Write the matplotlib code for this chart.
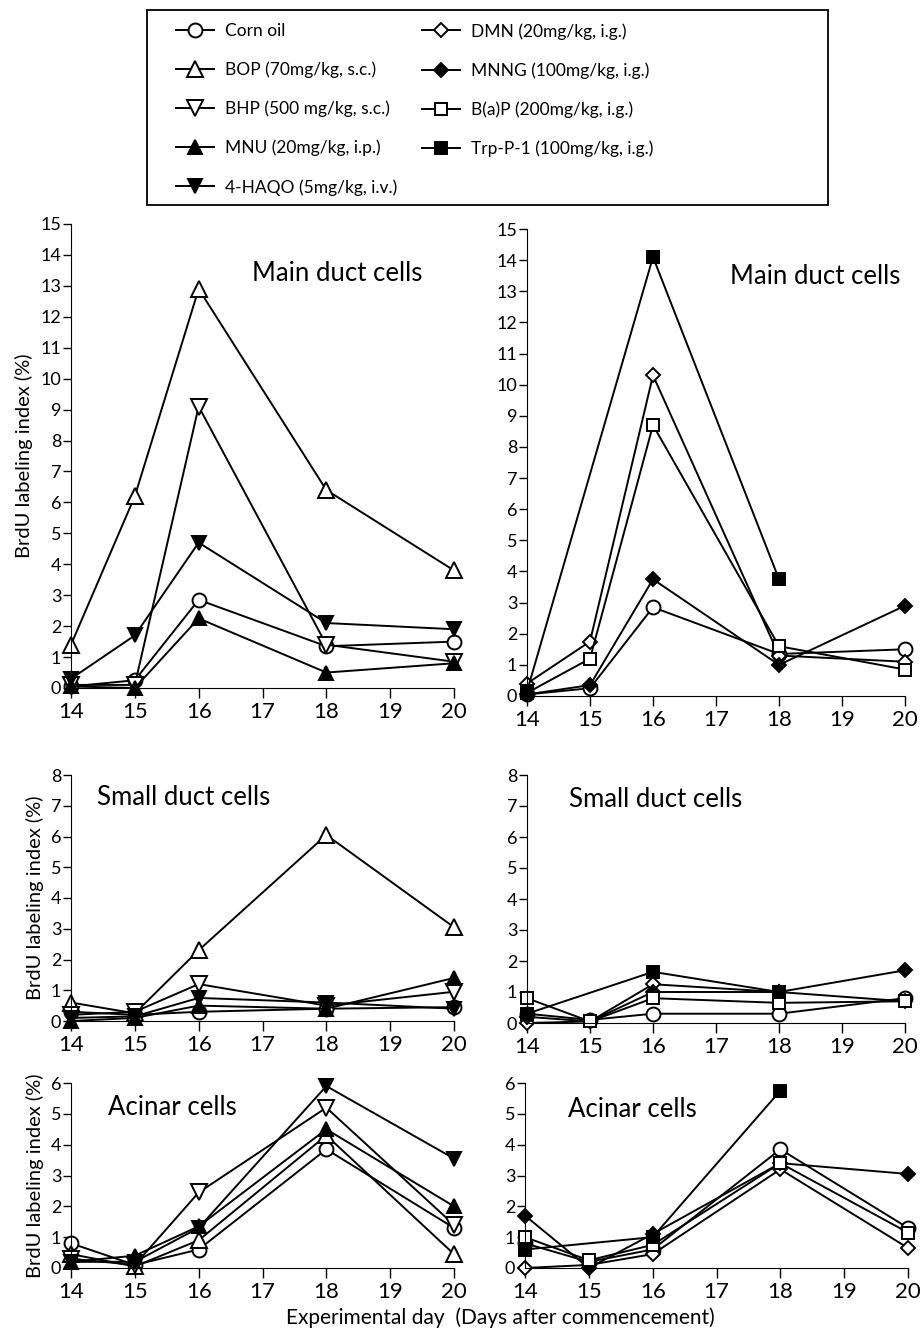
import matplotlib
matplotlib.use("Agg")
import matplotlib.pyplot as plt
from matplotlib.lines import Line2D
from matplotlib.patches import Rectangle
import numpy as np

plt.rcParams['font.family'] = ['Lato', 'DejaVu Sans']

days = [14, 15, 16, 18, 20]
nan = np.nan

# left column groups
corn_main = [0.05, 0.25, 2.85, 1.35, 1.5]
bop_main = [1.4, 6.2, 12.9, 6.4, 3.8]
bhp_main = [0.1, 0.1, 9.1, 1.4, 0.85]
mnu_main = [0.05, 0.0, 2.25, 0.5, 0.8]
haqo_main = [0.3, 1.7, 4.7, 2.1, 1.9]

corn_small = [0.3, 0.2, 0.3, 0.4, 0.45]
bop_small = [0.6, 0.25, 2.3, 6.05, 3.05]
bhp_small = [0.2, 0.3, 1.2, 0.5, 0.95]
mnu_small = [0.0, 0.1, 0.5, 0.4, 1.4]
haqo_small = [0.1, 0.15, 0.75, 0.6, 0.4]

corn_acinar = [0.8, 0.1, 0.6, 3.85, 1.3]
bop_acinar = [0.45, 0.05, 0.9, 4.3, 0.45]
bhp_acinar = [0.3, 0.1, 2.45, 5.2, 1.4]
mnu_acinar = [0.2, 0.4, 1.35, 4.5, 2.0]
haqo_acinar = [0.2, 0.2, 1.3, 5.9, 3.55]

# right column groups
corn_main_r = [0.05, 0.25, 2.85, 1.35, 1.5]
dmn_main = [0.4, 1.75, 10.3, 1.3, 1.1]
mnng_main = [0.05, 0.35, 3.75, 1.0, 2.9]
bap_main = [0.1, 1.2, 8.7, 1.6, 0.85]
trp_main = [0.15, nan, 14.1, 3.75, nan]

corn_small_r = [0.3, 0.1, 0.3, 0.3, 0.8]
dmn_small = [0.0, 0.05, 1.25, 1.0, 0.7]
mnng_small = [0.2, 0.05, 1.0, 1.0, 1.7]
bap_small = [0.8, 0.05, 0.8, 0.65, 0.7]
trp_small = [0.3, nan, 1.65, 1.0, nan]

corn_acinar_r = [0.8, 0.2, 0.6, 3.85, 1.3]
dmn_acinar = [0.0, 0.1, 0.45, 3.2, 0.65]
mnng_acinar = [1.7, 0.0, 1.1, 3.4, 3.05]
bap_acinar = [1.0, 0.25, 0.75, 3.4, 1.15]
trp_acinar = [0.6, nan, 1.0, 5.75, nan]

styles = {
    'Corn oil': dict(marker='o', mfc='white', ms=10),
    'BOP (70mg/kg, s.c.)': dict(marker='^', mfc='white', ms=11),
    'BHP (500 mg/kg, s.c.)': dict(marker='v', mfc='white', ms=11),
    'MNU (20mg/kg, i.p.)': dict(marker='^', mfc='black', ms=10),
    '4-HAQO (5mg/kg, i.v.)': dict(marker='v', mfc='black', ms=10),
    'DMN (20mg/kg, i.g.)': dict(marker='D', mfc='white', ms=7),
    'MNNG (100mg/kg, i.g.)': dict(marker='D', mfc='black', ms=7),
    'B(a)P (200mg/kg, i.g.)': dict(marker='s', mfc='white', ms=9),
    'Trp-P-1 (100mg/kg, i.g.)': dict(marker='s', mfc='black', ms=9),
}
names = list(styles)

left_sets = [
    [corn_main, bop_main, bhp_main, mnu_main, haqo_main],
    [corn_small, bop_small, bhp_small, mnu_small, haqo_small],
    [corn_acinar, bop_acinar, bhp_acinar, mnu_acinar, haqo_acinar],
]
right_sets = [
    [corn_main_r, dmn_main, mnng_main, bap_main, trp_main],
    [corn_small_r, dmn_small, mnng_small, bap_small, trp_small],
    [corn_acinar_r, dmn_acinar, mnng_acinar, bap_acinar, trp_acinar],
]
left_names = names[:5]
right_names = [names[0]] + names[5:]

titles = ['Main duct cells', 'Small duct cells', 'Acinar cells']
ymaxes = [15, 8, 6]

fig = plt.figure(figsize=(9.23, 13.32), dpi=100)
W, H = 923, 1332

def px_axes(x0, x1, ytop, ybot):
    return fig.add_axes([x0 / W, 1 - ybot / H, (x1 - x0) / W, (ybot - ytop) / H])

rows_left = [(71, 454, 224, 688), (71, 454, 775, 1021), (71, 454, 1083, 1268)]
rows_right = [(527, 905, 229, 696), (527, 905, 775, 1023), (525, 908, 1083, 1268)]
title_pos_left = [(16.84, 13.4), (14.41, 7.26), (14.58, 5.2)]
title_pos_right = [(17.22, 13.47), (14.67, 7.2), (14.67, 5.13)]

def draw(ax, sets, snames, ymax, title, tpos, ylabel):
    for vals, nm in zip(sets, snames):
        v = np.array(vals, dtype=float)
        ok = ~np.isnan(v)
        st = styles[nm]
        ax.plot(np.array(days)[ok], v[ok], color='black', lw=1.4,
                marker=st['marker'], mfc=st['mfc'], mec='black', mew=1.4,
                ms=st['ms'], clip_on=False)
    ax.set_xlim(14, 20)
    ax.set_ylim(0, ymax)
    ax.set_xticks(range(14, 21))
    ax.set_yticks(range(0, ymax + 1))
    ax.spines['top'].set_visible(False)
    ax.spines['right'].set_visible(False)
    ax.tick_params(axis='x', labelsize=16, length=7, width=1, pad=3)
    ax.tick_params(axis='y', labelsize=13, length=6, width=1, pad=1)
    ax.text(tpos[0], tpos[1], title, fontsize=18.5, ha='left', va='center')
    if ylabel:
        ax.set_ylabel('BrdU labeling index (%)', fontsize=14.5, labelpad=5)

for i in range(3):
    axl = px_axes(*rows_left[i])
    draw(axl, left_sets[i], left_names, ymaxes[i], titles[i], title_pos_left[i], True)
    axr = px_axes(*rows_right[i])
    draw(axr, right_sets[i], right_names, ymaxes[i], titles[i], title_pos_right[i], False)

# legend box and two columns of entries
fig.patches.append(Rectangle((147 / W, 1 - 205 / H), (828 - 147) / W, 195 / H,
                             transform=fig.transFigure, fill=False,
                             edgecolor='black', linewidth=1.3))

def make_handles(nms):
    hs = []
    for nm in nms:
        st = styles[nm]
        hs.append(Line2D([], [], color='black', lw=1.4, marker=st['marker'],
                         mfc=st['mfc'], mec='black', mew=1.4, ms=st['ms']))
    return hs

leg_kw = dict(loc='upper left', frameon=False, borderpad=0, borderaxespad=0,
              handlelength=2.2, handletextpad=0.6, labelspacing=1.3,
              prop={'size': 12.5})
fig.legend(make_handles(names[:5]), names[:5],
           bbox_to_anchor=(176 / W, 1 - 23 / H), **leg_kw)
fig.legend(make_handles(names[5:]), names[5:],
           bbox_to_anchor=(422 / W, 1 - 23 / H), **leg_kw)

fig.text(500 / W, 1 - 1318 / H, 'Experimental day  (Days after commencement)',
         fontsize=15, ha='center', va='center')

fig.savefig('out.png', dpi=100)
